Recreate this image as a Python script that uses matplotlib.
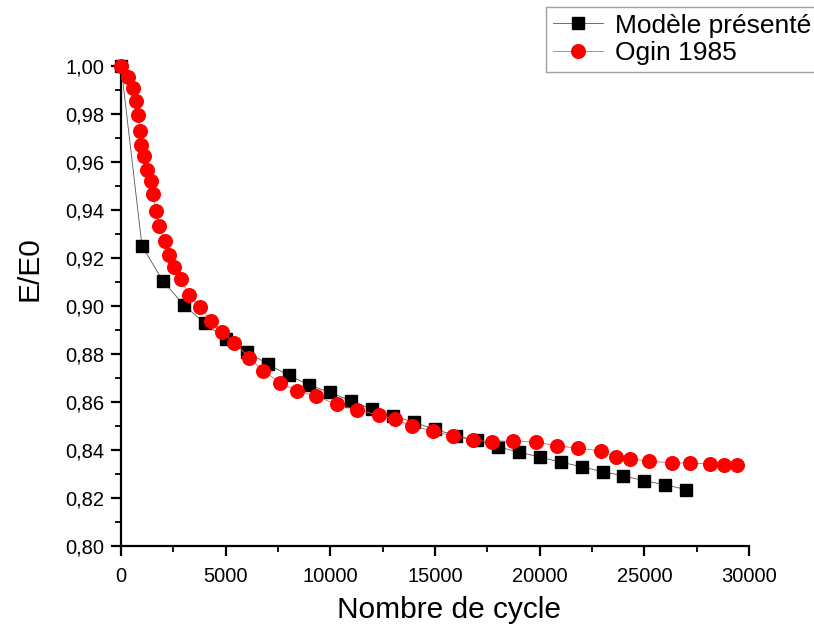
import numpy as np
from matplotlib import pyplot as plt
from matplotlib.ticker import MultipleLocator, FuncFormatter

plt.rcParams['font.family'] = ['Liberation Sans', 'DejaVu Sans']

# Modèle présenté (black squares)
cycles_model = [0, 1000, 2000, 3000, 4000, 5000, 6000, 7000, 8000, 9000,
                10000, 11000, 12000, 13000, 14000, 15000, 16000, 17000, 18000,
                19000, 20000, 21000, 22000, 23000, 24000, 25000, 26000, 27000]
e_model = [1.000, 0.9251, 0.9104, 0.9004, 0.8928, 0.8862, 0.8810, 0.8758,
           0.8712, 0.8670, 0.8640, 0.8603, 0.8571, 0.8542, 0.8515, 0.8486,
           0.8460, 0.8440, 0.8413, 0.8392, 0.8370, 0.8350, 0.8330, 0.8310,
           0.8292, 0.8272, 0.8255, 0.8235]

# Ogin 1985 (red circles)
cycles_ogin = [0, 320, 560, 720, 800, 920, 950, 1080, 1240, 1410, 1530, 1655,
               1825, 2100, 2290, 2530, 2850, 3260, 3760, 4280, 4840, 5410,
               6115, 6800, 7600, 8420, 9300, 10300, 11255, 12320, 13070,
               13900, 14890, 15840, 16820, 17730, 18730, 19830, 20830, 21830,
               22930, 23650, 24320, 25230, 26330, 27190, 28140, 28810, 29430]
e_ogin = [1.000, 0.9953, 0.9910, 0.9854, 0.9796, 0.9729, 0.9670, 0.9625,
          0.9568, 0.9520, 0.9465, 0.9396, 0.9335, 0.9272, 0.9212, 0.9161,
          0.9111, 0.9046, 0.8996, 0.8939, 0.8890, 0.8847, 0.8785, 0.8730,
          0.8680, 0.8646, 0.8625, 0.8590, 0.8567, 0.8546, 0.8528, 0.8501,
          0.8479, 0.8458, 0.8442, 0.8433, 0.8438, 0.8433, 0.8417, 0.8408,
          0.8396, 0.8371, 0.8363, 0.8354, 0.8346, 0.8346, 0.8342, 0.8338,
          0.8338]

fig = plt.figure(figsize=(8.14, 6.25), dpi=100)
ax = fig.add_axes([0.1487, 0.1264, 0.7715, 0.768])

ax.plot(cycles_model, e_model, color='#555555', lw=0.6, marker='s',
        ms=9, mfc='black', mec='black', label='Modèle présenté',
        clip_on=False, zorder=3)
ax.plot(cycles_ogin, e_ogin, color='#e06060', lw=0.6, marker='o',
        ms=9.8, mfc='#ff0000', mec='#ff0000', label='Ogin 1985',
        clip_on=False, zorder=4)

ax.set_xlim(0, 30000)
ax.set_ylim(0.80, 1.00)
ax.xaxis.set_major_locator(MultipleLocator(5000))
ax.xaxis.set_minor_locator(MultipleLocator(2500))
ax.yaxis.set_major_locator(MultipleLocator(0.02))
ax.yaxis.set_minor_locator(MultipleLocator(0.01))
ax.yaxis.set_major_formatter(FuncFormatter(lambda v, p: f'{v:.2f}'.replace('.', ',')))

ax.spines['top'].set_visible(False)
ax.spines['right'].set_visible(False)
ax.spines['left'].set_linewidth(1.6)
ax.spines['bottom'].set_linewidth(1.6)
ax.tick_params(which='major', direction='out', length=7, width=1.6,
               labelsize=14.5, pad=5)
ax.tick_params(axis='x', which='major', pad=8)
ax.tick_params(which='minor', direction='out', length=4, width=1.3)

ax.set_xlabel('Nombre de cycle', fontsize=21.5)
ax.set_ylabel('E/E0', fontsize=21.5)
ax.xaxis.set_label_coords(0.522, -0.104)
ax.yaxis.set_label_coords(-0.124, 0.578)

leg = fig.legend(loc='upper left', bbox_to_anchor=(546 / 814, 1 - 7 / 625),
                 fontsize=19, frameon=True, fancybox=False, borderpad=0.25,
                 handlelength=1.9, handletextpad=0.45, labelspacing=0.14,
                 borderaxespad=0)
leg.get_frame().set_edgecolor('#888888')
leg.get_frame().set_linewidth(1.0)

fig.savefig('out.png', dpi=100)
